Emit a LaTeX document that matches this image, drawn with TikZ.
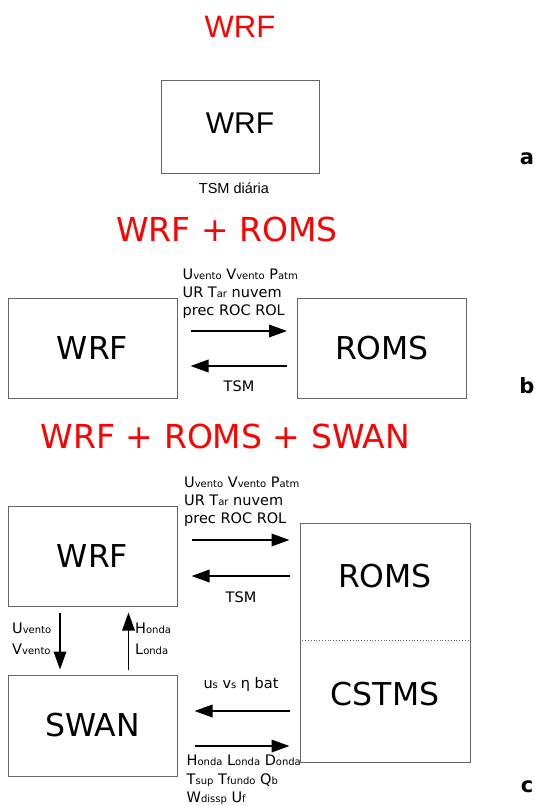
\documentclass[tikz,border=0pt]{standalone}
\usepackage{fontspec}
\setmainfont{DejaVu Sans}
\newfontfamily\arialf{Liberation Sans}
\usetikzlibrary{arrows.meta}
\newcommand{\vsub}[2]{#1{\fontsize{10}{10}\selectfont #2}}
\begin{document}
\begin{tikzpicture}[x=1pt,y=-1pt,
  box/.style={draw=black!60, line width=1pt, minimum width=169pt, minimum height=100pt, inner sep=0pt, font=\fontsize{31.5}{32}\selectfont},
  lbl/.style={font=\fontsize{14.5}{17}\selectfont, inner sep=0pt},
  arr/.style={line width=1.9pt, -{Triangle[length=18pt,width=12.5pt]}},
  ttl/.style={text=red, inner sep=0pt, font=\fontsize{33}{34}\selectfont},
  tag/.style={inner sep=0pt, font=\bfseries\fontsize{21}{21}\selectfont}]
\useasboundingbox (0,0) rectangle (535,806);

% ---------- a ----------
\node[ttl, anchor=base, font=\arialf\fontsize{31}{32}\selectfont] (ta) at (240,37) {WRF};
\node[box, minimum width=158pt, minimum height=93pt] (wrfa) at (240,126.5) {};
\node[inner sep=0pt, anchor=base, font=\arialf\fontsize{30}{31}\selectfont] (wrfat) at (240,133) {WRF};
\node[inner sep=0pt, anchor=base, font=\arialf\fontsize{14.5}{15}\selectfont] (tsma) at (234,193) {TSM diária};
\node[tag, anchor=base] (taga) at (527,164) {a};

% ---------- b ----------
\node[ttl, anchor=base] (tb) at (227,241.5) {WRF + ROMS};
\node[box] (wrfb) at (92.5,348) {WRF};
\node[box] (romsb) at (382,348.5) {ROMS};
\draw[arr, shorten <=13pt, shorten >=10pt] (wrfb.east |- 0,331) -- (romsb.west |- 0,331);
\draw[arr, shorten <=10pt, shorten >=13pt] (romsb.west |- 0,366) -- (wrfb.east |- 0,366);
\node[lbl, anchor=base west] (b1) at (182.5,279) {\vsub{U}{vento} \vsub{V}{vento} \vsub{P}{atm}};
\node[lbl, anchor=base west] (b2) at (182.5,297) {UR \vsub{T}{ar} nuvem};
\node[lbl, anchor=base west] (b3) at (182.5,315) {prec ROC ROL};
\node[lbl, anchor=base] (tsmb) at (239,391.5) {TSM};
\node[tag, anchor=base] (tagb) at (527,393) {b};

% ---------- c ----------
\node[ttl, anchor=base] (tc) at (225.5,448) {WRF + ROMS + SWAN};
\node[box] (wrfc) at (92.5,556) {WRF};
\node[box, minimum width=170.5pt, minimum height=239pt] (romsc) at (385.25,642.5) {};
\draw[black!60, line width=0.8pt, dotted] (romsc.west |- 0,640) -- (romsc.east |- 0,640);
\node[inner sep=0pt, font=\fontsize{31.5}{32}\selectfont] (romst) at (385,576.5) {ROMS};
\node[inner sep=0pt, font=\fontsize{31.5}{32}\selectfont] (cstmst) at (385,694.5) {CSTMS};
\node[box, minimum height=101pt] (swan) at (92.5,725.5) {SWAN};

\draw[arr, shorten <=14pt, shorten >=10pt] (wrfc.east |- 0,540) -- (romsc.west |- 0,540);
\draw[arr, shorten <=10pt, shorten >=14pt] (romsc.west |- 0,576) -- (wrfc.east |- 0,576);
\node[lbl, anchor=base west] (c1) at (184,487) {\vsub{U}{vento} \vsub{V}{vento} \vsub{P}{atm}};
\node[lbl, anchor=base west] (c2) at (184,505) {UR \vsub{T}{ar} nuvem};
\node[lbl, anchor=base west] (c3) at (184,523.5) {prec ROC ROL};
\node[lbl, anchor=base] (tsmc) at (241,602) {TSM};

\draw[arr, shorten <=6pt, shorten >=5pt] (wrfc.south -| 60,0) -- (swan.north -| 60,0);
\draw[arr, shorten <=5pt, shorten >=6pt] (swan.north -| 128.5,0) -- (wrfc.south -| 128.5,0);
\node[lbl, anchor=base west] (uv) at (12,633) {\vsub{U}{vento}};
\node[lbl, anchor=base west] (vv) at (12,654) {\vsub{V}{vento}};
\node[lbl, anchor=base west] (ho) at (135,633) {\vsub{H}{onda}};
\node[lbl, anchor=base west] (lo) at (135,654) {\vsub{L}{onda}};

\draw[arr, shorten <=10pt, shorten >=17pt] (romsc.west |- 0,711) -- (swan.east |- 0,711);
\draw[arr, shorten <=17pt, shorten >=10pt] (swan.east |- 0,746) -- (romsc.west |- 0,746);
\node[lbl, anchor=base] (usvs) at (241,688) {\vsub{u}{s} \vsub{v}{s} η bat};
\node[lbl, anchor=base west] (d1) at (186.5,765.5) {\vsub{H}{onda} \vsub{L}{onda} \vsub{D}{onda}};
\node[lbl, anchor=base west] (d2) at (186.5,784) {\vsub{T}{sup} \vsub{T}{fundo} \vsub{Q}{b}};
\node[lbl, anchor=base west] (d3) at (186.5,802) {\vsub{W}{dissp} \vsub{U}{f}};
\node[tag, anchor=base] (tagc) at (527,792) {c};
\end{tikzpicture}
\end{document}
